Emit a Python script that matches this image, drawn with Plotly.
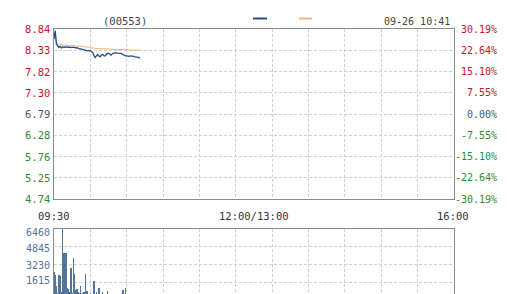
import plotly.graph_objects as go
import numpy as np

# ---------------- data ----------------
code_label = "(00553)"
stamp_label = "09-26 10:41"
time_labels = ["09:30", "12:00/13:00", "16:00"]
price_ticks = ["8.84", "8.33", "7.82", "7.30", "6.79", "6.28", "5.76", "5.25", "4.74"]
pct_ticks = ["30.19%", "22.64%", "15.10%", "7.55%", "0.00%", "-7.55%", "-15.10%", "-22.64%", "-30.19%"]
vol_ticks = ["6460", "4845", "3230", "1615"]
base_price = 6.79

minutes = list(range(72))  # minutes since 09:30
price = [8.60, 8.80, 8.48, 8.44, 8.40, 8.42, 8.38, 8.41, 8.40, 8.40,
         8.41, 8.40, 8.40, 8.40, 8.39, 8.40, 8.39, 8.40, 8.38, 8.39,
         8.37, 8.36, 8.36, 8.35, 8.34, 8.33, 8.33, 8.32, 8.32, 8.32,
         8.31, 8.29, 8.27, 8.20, 8.15, 8.19, 8.22, 8.19, 8.17, 8.21,
         8.23, 8.20, 8.19, 8.22, 8.25, 8.25, 8.24, 8.21, 8.24, 8.26,
         8.26, 8.27, 8.26, 8.26, 8.25, 8.25, 8.24, 8.22, 8.20, 8.19,
         8.19, 8.18, 8.18, 8.19, 8.19, 8.18, 8.18, 8.17, 8.17, 8.16,
         8.15, 8.14]
avg_price = [8.60, 8.62, 8.53, 8.50, 8.48, 8.47, 8.46, 8.46, 8.45, 8.45,
             8.45, 8.45, 8.45, 8.44, 8.44, 8.44, 8.44, 8.44, 8.43, 8.43,
             8.43, 8.43, 8.42, 8.42, 8.42, 8.41, 8.41, 8.40, 8.40, 8.40,
             8.39, 8.39, 8.38, 8.38, 8.37, 8.37, 8.37, 8.37, 8.37, 8.37,
             8.37, 8.36, 8.36, 8.36, 8.36, 8.36, 8.36, 8.35, 8.35, 8.35,
             8.35, 8.35, 8.35, 8.35, 8.35, 8.34, 8.34, 8.34, 8.34, 8.34,
             8.34, 8.34, 8.33, 8.33, 8.33, 8.33, 8.33, 8.33, 8.33, 8.33,
             8.33, 8.33]
volume = [2500, 2250, 1300, 600, 2300, 2200, 700, 6460, 4300, 800,
          4300, 1100, 1000, 700, 2900, 600, 3800, 2400, 900, 1000,
          700, 600, 1300, 500, 600, 700, 2400, 800, 400, 500,
          600, 400, 500, 1700, 500, 700, 400, 1100, 300, 400,
          700, 300, 400, 300, 800, 300, 400, 300, 200, 300,
          400, 300, 300, 200, 300, 400, 300, 900, 300, 1100,
          400, 300, 200, 300, 400, 300, 200, 300, 300, 400,
          300, 200]

# ---------------- style ----------------
FONT = "DejaVu Sans Mono"
FS = 10
RED, GREEN, GRAY = "#cc1122", "#2e8b2e", "#555555"
VOLC = "#54759a"
GRID = "#d0d0d0"
BORDER = "#8a8a8a"
DASH = "3px,2px"

W, H = 507, 294
L, R, T = 54, 53, 29
plot_h = H - T
top_dom = [(H - 199) / plot_h, 1.0]
vol_dom = [0.0, (H - 229) / plot_h]

pmin, pmax = float(price_ticks[-1]), float(price_ticks[0])
ptick_vals = list(np.linspace(pmax, pmin, len(price_ticks)))
vmax = float(vol_ticks[0])
vtick_vals = [float(v) for v in vol_ticks]
vol_low = vmax * (5.8 / 70.8)  # zero level sits just below the visible bottom

fig = go.Figure()
fig.add_trace(go.Scatter(x=minutes, y=avg_price, mode="lines",
                         line=dict(color="#efb878", width=1), xaxis="x", yaxis="y",
                         hoverinfo="skip"))
fig.add_trace(go.Scatter(x=minutes, y=price, mode="lines",
                         line=dict(color="#1a4f8a", width=1.3), xaxis="x", yaxis="y",
                         hoverinfo="skip"))
fig.add_trace(go.Bar(x=minutes, y=volume, marker=dict(color=VOLC, line=dict(width=0)),
                     width=0.55, xaxis="x2", yaxis="y2", hoverinfo="skip"))

xcommon = dict(range=[0, 330], tickvals=list(range(0, 331, 30)), showticklabels=False,
               showgrid=True, gridcolor=GRID, griddash=DASH, gridwidth=1,
               showline=True, linecolor=BORDER, linewidth=1, mirror=True,
               zeroline=False, ticks="", fixedrange=True)

fig.update_layout(
    width=W, height=H,
    margin=dict(l=L, r=R, t=T, b=0, pad=0),
    paper_bgcolor="white", plot_bgcolor="white",
    showlegend=False,
    font=dict(family=FONT, size=FS, color="#333333"),
    xaxis=dict(domain=[0, 1], anchor="y", **xcommon),
    xaxis2=dict(domain=[0, 1], anchor="y2", **xcommon),
    yaxis=dict(domain=top_dom, range=[pmin, pmax], tickvals=ptick_vals, showticklabels=False,
               showgrid=True, gridcolor=GRID, griddash=DASH, gridwidth=1,
               showline=True, linecolor=BORDER, linewidth=1, mirror=True,
               zeroline=False, ticks="", fixedrange=True),
    yaxis2=dict(domain=vol_dom, range=[vol_low, vmax], tickvals=vtick_vals, showticklabels=False,
                showgrid=True, gridcolor=GRID, griddash=DASH, gridwidth=1,
                showline=True, linecolor=BORDER, linewidth=1, mirror=True,
                zeroline=False, ticks="", fixedrange=True),
    bargap=0,
)

ann = []
def colr(v):
    if abs(v - base_price) < 1e-6:
        return GRAY
    return RED if v > base_price else GREEN

for tv, lab in zip(ptick_vals, price_ticks):
    ann.append(dict(x=-0.006, y=tv, xref="paper", yref="y", text=lab, showarrow=False,
                    xanchor="right", yanchor="middle",
                    font=dict(family=FONT, size=FS + 0.5, color=colr(float(lab)))))
for tv, lab, plab in zip(ptick_vals, pct_ticks, price_ticks):
    ann.append(dict(x=(499 - L) / 400, y=tv, xref="paper", yref="y", text=lab, showarrow=False,
                    xanchor="right", yanchor="middle",
                    font=dict(family=FONT, size=FS, color=colr(float(plab)))))
vshift = [-3, -2, -1, 2]
for tv, lab, sh in zip(vtick_vals, vol_ticks, vshift):
    ann.append(dict(x=-0.006, y=tv, xref="paper", yref="y2", text=lab, showarrow=False,
                    xanchor="right", yanchor="middle", yshift=sh,
                    font=dict(family=FONT, size=FS, color=VOLC)))

ypix = lambda py: (H - py) / plot_h
for xpos, lab in zip([54, 254, 453], time_labels):
    ann.append(dict(x=(xpos - L) / 400, y=ypix(216), xref="paper", yref="paper", text=lab,
                    showarrow=False, xanchor="center", yanchor="middle",
                    font=dict(family=FONT, size=FS + 0.5, color="#333333")))
ann.append(dict(x=(125 - L) / 400, y=ypix(21), xref="paper", yref="paper", text=code_label,
                showarrow=False, xanchor="center", yanchor="middle",
                font=dict(family=FONT, size=FS + 0.5, color="#444444")))
ann.append(dict(x=(452 - L) / 400, y=ypix(21), xref="paper", yref="paper", text=stamp_label,
                showarrow=False, xanchor="right", yanchor="middle",
                font=dict(family=FONT, size=FS, color="#444444")))
fig.update_layout(annotations=ann)

# legend swatches
shapes = [
    dict(type="line", xref="paper", yref="paper", x0=(253 - L) / 400, x1=(267 - L) / 400,
         y0=ypix(18.5), y1=ypix(18.5), line=dict(color="#1a4f8a", width=2)),
    dict(type="line", xref="paper", yref="paper", x0=(299 - L) / 400, x1=(312 - L) / 400,
         y0=ypix(18.5), y1=ypix(18.5), line=dict(color="#efb878", width=2)),
]
fig.update_layout(shapes=shapes)

fig.write_html("out.html")
